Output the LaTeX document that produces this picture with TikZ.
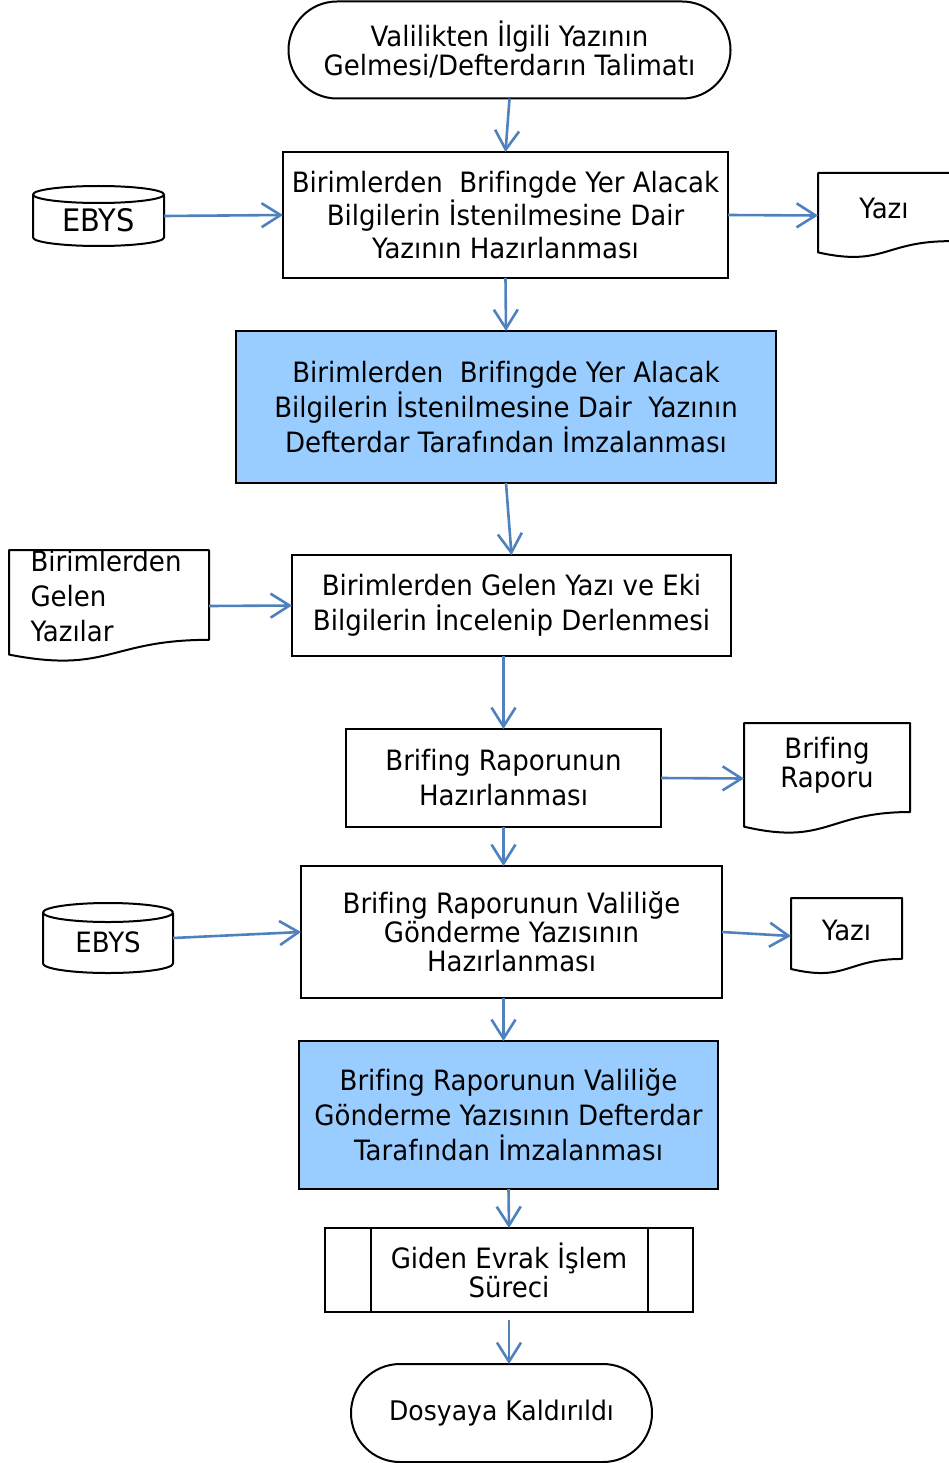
\documentclass[tikz,border=0pt]{standalone}
\usepackage{fontspec}
\setmainfont{DejaVu Sans}[FakeStretch=0.93,Ligatures=NoCommon]
\usetikzlibrary{arrows.meta,shapes.misc,calc}
\definecolor{arrblue}{HTML}{4F81BD}
\definecolor{fillblue}{HTML}{99CCFF}
\newcommand\docshape[1]{\draw[docline] (#1.north west) -- (#1.north east) -- ($(#1.north east)!0.802!(#1.south east)$) .. controls ($(#1.north)!0.802!(#1.south)$) and ($(#1.north)!1.1075!(#1.south)$) .. ($(#1.north west)!0.934!(#1.south west)$) -- cycle;}
\begin{document}
\begin{tikzpicture}[x=1pt,y=1pt,
 fs/.style={font=\fontsize{28}{#1}\selectfont},
 box/.style={draw=black, line width=2pt, rectangle, align=center, inner sep=0pt, outer sep=0pt},
 term/.style={box, rounded rectangle},
 bluebox/.style={box, fill=fillblue},
 docnode/.style={rectangle, inner sep=0pt, outer sep=0pt},
 docline/.style={draw=black, line width=2pt, line join=round},
 arr/.style={draw=arrblue, line width=2.6pt, -{Straight Barb[length=19pt,width=24pt]}},
]
\useasboundingbox (0,0) rectangle (948,-1463);

% main flow
\node[term, fs=29, minimum width=442, minimum height=97] (start) at (509.5,-50) {Valilikten İlgili Yazının\\Gelmesi/Defterdarın Talimatı};
\node[box, fs=33, minimum width=445, minimum height=126] (b1) at (505.5,-215) {Birimlerden\ \ Brifingde Yer Alacak\\Bilgilerin İstenilmesine Dair\\Yazının Hazırlanması};
\node[bluebox, fs=35, minimum width=540, minimum height=152] (b2) at (506,-407) {Birimlerden\ \ Brifingde Yer Alacak\\Bilgilerin İstenilmesine Dair\ \ Yazının\\Defterdar Tarafından İmzalanması};
\node[box, fs=35, minimum width=439, minimum height=101] (b3) at (511.5,-605.5) {Birimlerden Gelen Yazı ve Eki\\Bilgilerin İncelenip Derlenmesi};
\node[box, fs=35, minimum width=315, minimum height=98] (b4) at (503.5,-778) {Brifing Raporunun\\Hazırlanması};
\node[box, fs=29, minimum width=421, minimum height=132] (b5) at (511.5,-932) {Brifing Raporunun Valiliğe\\Gönderme Yazısının\\Hazırlanması};
\node[bluebox, fs=35, minimum width=419, minimum height=148] (b6) at (508.5,-1115) {Brifing Raporunun Valiliğe\\Gönderme Yazısının Defterdar\\Tarafından İmzalanması};
\node[box, fs=29, minimum width=368, minimum height=84] (sub) at (509,-1270) {Giden Evrak İşlem\\Süreci};
\draw[line width=2pt] ([xshift=46]sub.north west) -- ([xshift=46]sub.south west);
\draw[line width=2pt] ([xshift=-45]sub.north east) -- ([xshift=-45]sub.south east);
\node[term, font=\fontsize{27}{35}\selectfont, minimum width=301, minimum height=98] (end) at (501.5,-1413) {Dosyaya Kaldırıldı};

% databases
\node[docnode, minimum width=131, minimum height=60, label={[font=\fontsize{31}{36}\selectfont, yshift=-4]center:EBYS}] (e1) at (98.5,-216) {};
\draw[docline] ([yshift=-8.5]e1.north east) arc[start angle=0,end angle=360,x radius=65.5,y radius=8.5];
\draw[docline] ([yshift=-8.5]e1.north west) -- ([yshift=8.5]e1.south west) arc[start angle=180,end angle=360,x radius=65.5,y radius=8.5] -- ([yshift=-8.5]e1.north east);

\node[docnode, minimum width=130, minimum height=70, label={[font=\fontsize{28}{34}\selectfont, yshift=-4]center:EBYS}] (e2) at (108,-938) {};
\draw[docline] ([yshift=-9.5]e2.north east) arc[start angle=0,end angle=360,x radius=65,y radius=9.5];
\draw[docline] ([yshift=-9.5]e2.north west) -- ([yshift=9.5]e2.south west) arc[start angle=180,end angle=360,x radius=65,y radius=9.5] -- ([yshift=-9.5]e2.north east);

% documents
\node[docnode, minimum width=132, minimum height=85, label={[fs=34,yshift=7]center:Yazı}] (y1) at (884,-215.5) {};
\docshape{y1}
\node[docnode, minimum width=200, minimum height=112, label={[fs=35, align=left, anchor=west, xshift=18, yshift=10]west:Birimlerden\\Gelen\\Yazılar}] (gy) at (109,-606) {};
\docshape{gy}
\node[docnode, minimum width=166, minimum height=111, label={[fs=29, align=center, yshift=13]center:Brifing\\Raporu}] (br) at (827,-778.5) {};
\docshape{br}
\node[docnode, minimum width=111, minimum height=76, label={[fs=34, yshift=6]center:Yazı}] (y2) at (846.5,-936) {};
\docshape{y2}

% connectors
\draw[arr] (start.south) -- (b1.north);
\draw[arr] (b1.south) -- (b2.north);
\draw[arr] (b2.south) -- (b3.north);
\draw[arr] (b4.north |- b3.south) -- (b4.north);
\draw[arr] (b4.south) -- (b4.south |- b5.north);
\draw[arr] (b5.south -| b4.south) -- (b6.north -| b4.south);
\draw[arr] (b6.south) -- (sub.north);
\draw[arr, shorten <=8pt] (sub.south) -- (sub.south |- end.north);
\draw[arr] (e1.east) -- (b1.west);
\draw[arr] (b1.east) -- (y1.west);
\draw[arr] (gy.east) -- (b3.west);
\draw[arr] (b4.east) -- (br.west);
\draw[arr] (e2.east) -- (b5.west);
\draw[arr] (b5.east) -- (y2.west);
\end{tikzpicture}
\end{document}
